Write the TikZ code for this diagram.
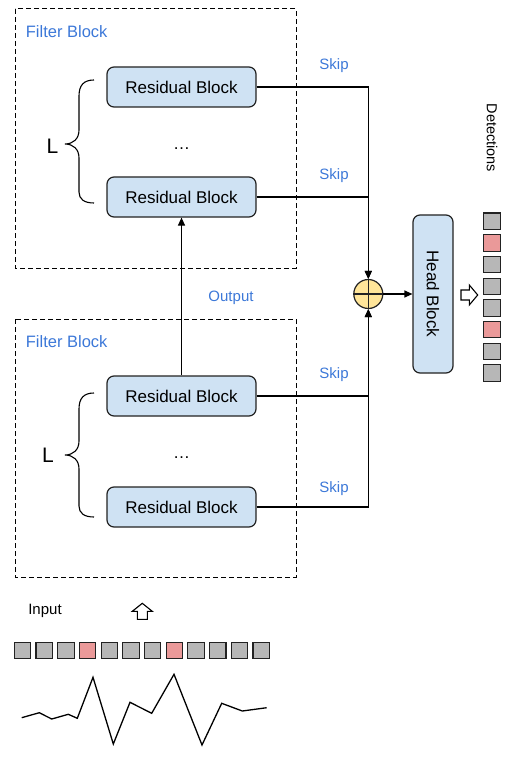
\documentclass[tikz,border=0pt]{standalone}
\usepackage{fontspec}
\setmainfont{Liberation Sans}
\usetikzlibrary{arrows.meta}
\definecolor{resfill}{HTML}{CFE2F3}
\definecolor{sumfill}{HTML}{FFE599}
\definecolor{lbl}{HTML}{3C78D8}
\definecolor{cellgray}{HTML}{B7B7B7}
\definecolor{cellpink}{HTML}{EA9999}
\definecolor{edge}{HTML}{222222}
\tikzset{
  resblock/.style={draw=edge, fill=resfill, line width=1.2pt, rounded corners=7pt,
    minimum width=149pt, minimum height=40pt, inner sep=0pt,
    font=\fontsize{17}{20}\selectfont},
  filterbox/.style={draw=black, dashed, dash pattern=on 5pt off 3pt, line width=1pt},
  bluelbl/.style={text=lbl, inner sep=0pt, font=\fontsize{15}{18}\selectfont},
  conn/.style={line width=1.2pt, draw=black},
  arr/.style={conn, -{Triangle[length=8pt,width=7pt]}},
  cell/.style={draw=edge, line width=1.1pt, minimum size=16.4pt, inner sep=0pt, fill=cellgray},
  pinkcell/.style={cell, fill=cellpink},
  hollow/.style={draw=black, line width=1.1pt, fill=white, line join=miter},
  brace/.style={draw=black, line width=1.1pt},
}
\begin{document}
\begin{tikzpicture}[x=1pt,y=-1pt]
\useasboundingbox (0,0) rectangle (512,759);

% Filter blocks
\draw[filterbox] (15,9) rectangle (296,268);
\draw[filterbox] (15,319) rectangle (296,577);
\node[bluelbl, font=\fontsize{16.5}{19}\selectfont, anchor=base west] (fb1) at (25.7,37.6) {Filter Block};
\node[bluelbl, font=\fontsize{16.5}{19}\selectfont, anchor=base west] (fb2) at (25.7,347.8) {Filter Block};

% Residual blocks
\node[resblock] (r1) at (181.5,87) {Residual Block};
\node[resblock] (r2) at (181.5,197) {Residual Block};
\node[resblock] (r3) at (181.5,396) {Residual Block};
\node[resblock] (r4) at (181.5,507) {Residual Block};

% dots
\node[inner sep=0pt, font=\fontsize{17}{20}\selectfont] (d1) at (181.5,148.5) {…};
\node[inner sep=0pt, font=\fontsize{17}{20}\selectfont] (d2) at (181.5,457.5) {…};

% L labels and braces
\node[inner sep=0pt, font=\fontsize{21}{24}\selectfont] (L1) at (52.5,146) {L};
\node[inner sep=0pt, font=\fontsize{21}{24}\selectfont] (L2) at (48,455) {L};
\draw[brace] (94,80) .. controls (84,80) and (79,85) .. (79,96) -- (79,130)
  .. controls (79,139) and (73,144) .. (65,144)
  .. controls (73,144) and (79,149) .. (79,158) -- (79,192)
  .. controls (79,199) and (84,203) .. (94,203);
\draw[brace] (94,393) .. controls (84,393) and (79,398) .. (79,409) -- (79,441)
  .. controls (79,450) and (73,455) .. (65,455)
  .. controls (73,455) and (79,460) .. (79,469) -- (79,506)
  .. controls (79,513) and (84,517) .. (94,517);

% Output connection
\draw[arr] (r3.north) -- (r2.south);
\node[bluelbl, anchor=base] (outl) at (231,301) {Output};

% Sum node
\node[circle, draw=edge, fill=sumfill, line width=1.2pt, minimum size=29pt, inner sep=0pt] (sum) at (368.3,294) {};
\draw[line width=1.1pt, draw=edge] (sum.north) -- (sum.south) (sum.west) -- (sum.east);

% Skip connections
\draw[arr] (r1.east) -| (sum.north);
\draw[arr] (r2.east) -| (sum.north);
\draw[arr] (r3.east) -| (sum.south);
\draw[arr] (r4.east) -| (sum.south);
\node[bluelbl, anchor=base] (s1) at (334,69.7) {Skip};
\node[bluelbl, anchor=base] (s2) at (334,179.7) {Skip};
\node[bluelbl, anchor=base] (s3) at (334,378.2) {Skip};
\node[bluelbl, anchor=base] (s4) at (334,492.5) {Skip};

% Head block
\node[draw=edge, fill=resfill, line width=1.2pt, rounded corners=7pt, minimum width=40pt,
  minimum height=158pt, inner sep=0pt] (head) at (433,294) {};
\node[rotate=-90, inner sep=0pt, font=\fontsize{17}{20}\selectfont] (headt) at (head.center) {Head Block};
\draw[arr] (sum.east) -- (head.west);

% output hollow arrow
\draw[hollow] (461,290) -- (469.3,290) -- (469.3,285) -- (477.7,295) -- (469.3,305) -- (469.3,300) -- (461,300) -- cycle;

% Detections
\node[rotate=-90, inner sep=0pt, font=\fontsize{14.5}{17}\selectfont] (det) at (492,138) {Detections};
\foreach \i in {0,...,7} {
  \ifnum\i=1 \def\cs{pinkcell}\else\ifnum\i=5 \def\cs{pinkcell}\else\def\cs{cell}\fi\fi
  \node[\cs] (o\i) at (492,{221.2+21.7*\i}) {};
}

% Input
\node[inner sep=0pt, anchor=base, font=\fontsize{15}{18}\selectfont] (inp) at (45,614.4) {Input};
\draw[hollow] (142.3,603.3) -- (152.3,611.3) -- (147.3,611.3) -- (147.3,619.3) -- (137.3,619.3) -- (137.3,611.3) -- (132.3,611.3) -- cycle;
\foreach \i in {0,...,11} {
  \ifnum\i=3 \def\cs{pinkcell}\else\ifnum\i=7 \def\cs{pinkcell}\else\def\cs{cell}\fi\fi
  \node[\cs] (c\i) at ({22.5+21.7*\i},650.3) {};
}

% waveform
\draw[line width=1.3pt, line join=miter] (21.7,717.7) -- (39.3,712.7) -- (51.7,719) -- (68.3,714.3)
  -- (77.3,718.3) -- (93,677.3) -- (113.3,744) -- (130,702.3) -- (151.7,713.3)
  -- (174,674.3) -- (202,745) -- (221.7,703.3) -- (242.3,711) -- (266.7,707.7);
\end{tikzpicture}
\end{document}
